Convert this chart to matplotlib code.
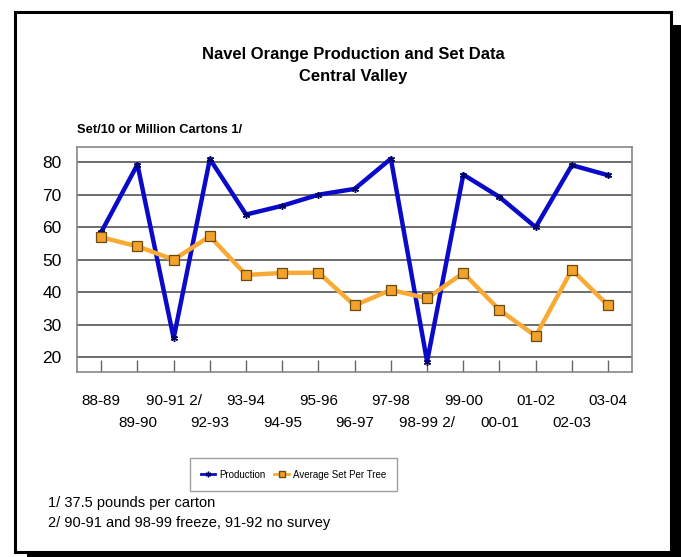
import matplotlib
matplotlib.use("Agg")
import matplotlib.pyplot as plt
from matplotlib.patches import Rectangle
from matplotlib.lines import Line2D
import matplotlib.transforms as mtransforms

plt.rcParams['font.family'] = ['Liberation Sans', 'DejaVu Sans']

categories = ["88-89", "89-90", "90-91 2/", "92-93", "93-94", "94-95", "95-96",
              "96-97", "97-98", "98-99 2/", "99-00", "00-01", "01-02", "02-03", "03-04"]
production = [58.5, 79.3, 25.8, 81.0, 63.9, 66.6, 70.0, 71.8, 81.1, 18.6, 76.2, 69.3, 60.0, 79.1, 76.0]
avg_set = [56.9, 54.1, 50.0, 57.2, 45.3, 45.9, 46.0, 35.9, 40.7, 38.1, 45.9, 34.5, 26.5, 46.9, 35.9]
yticks = [20, 30, 40, 50, 60, 70, 80]

W, H = 681, 557
fig = plt.figure(figsize=(W / 100, H / 100), dpi=100)

def fx(px):
    return px / W

def fy(py):
    return 1 - py / H

# frame with drop shadow
fig.add_artist(Rectangle((fx(27), fy(557)), fx(681) - fx(27), fy(25) - fy(557),
                         transform=fig.transFigure, facecolor='black', edgecolor='none', zorder=0))
fig.add_artist(Rectangle((fx(14.5), fy(551.5)), fx(671.3) - fx(14.5), fy(11.7) - fy(551.5),
                         transform=fig.transFigure, facecolor='white', edgecolor='black',
                         linewidth=2.2, zorder=0.5))

ax = fig.add_axes([fx(77), fy(372), fx(632) - fx(77), fy(147) - fy(372)])
ax.set_zorder(2)
x = list(range(len(categories)))

for yv in yticks:
    ax.axhline(yv, color='#555555', linewidth=1.2, zorder=1)

ax.plot(x, production, color='#0A0AC8', linewidth=3.2, marker=(6, 2, 0), markersize=5,
        markeredgecolor='#000066', markeredgewidth=1.0, zorder=3, label='Production')
ax.plot(x, avg_set, color='#F8AA35', linewidth=3.2, marker='s', markersize=6.5,
        markerfacecolor='#F2A22A', markeredgecolor='#6B4A10', markeredgewidth=0.9,
        zorder=3, label='Average Set Per Tree')

ax.set_xlim(-0.67, 14.66)
ax.set_ylim(15.4, 84.7)
ax.set_yticks(yticks)
ax.set_yticklabels([str(v) for v in yticks], fontsize=12.5)
ax.tick_params(axis='y', length=0, pad=11)
ax.set_xticks(x)
ax.set_xticklabels([])
ax.tick_params(axis='x', direction='in', length=9, width=1.0, color='#666666')
for s in ax.spines.values():
    s.set_color('#888888')
    s.set_linewidth(1.2)

trans = mtransforms.blended_transform_factory(ax.transData, ax.transAxes)
for i, lab in enumerate(categories):
    yy = -0.13 if i % 2 == 0 else -0.228
    ax.text(i, yy, lab, transform=trans, ha='center', va='center', fontsize=11)

fig.text(fx(353), fy(54), "Navel Orange Production and Set Data", ha='center', va='center',
         fontsize=11.9, fontweight='bold')
fig.text(fx(353), fy(76), "Central Valley", ha='center', va='center',
         fontsize=11.9, fontweight='bold')
fig.text(fx(77), fy(130), "Set/10 or Million Cartons 1/", ha='left', va='center',
         fontsize=9.3, fontweight='bold')

handles = [Line2D([], [], color='#0A0AC8', linewidth=2, marker=(6, 2, 0), markersize=4,
                  markeredgecolor='#000066'),
           Line2D([], [], color='#F8AA35', linewidth=2, marker='s', markersize=4,
                  markerfacecolor='#F2A22A', markeredgecolor='#6B4A10')]
leg = fig.legend(handles, ['Production', 'Average Set Per Tree'], loc='center',
                 bbox_to_anchor=(fx(293.5), fy(474.5)), ncol=2, fontsize=7,
                 frameon=True, fancybox=False, edgecolor='#888888', handlelength=1.5,
                 columnspacing=0.9, handletextpad=0.4, borderpad=1.15)
leg.get_frame().set_linewidth(1.0)

fig.text(fx(48), fy(503), "1/ 37.5 pounds per carton", ha='left', va='center', fontsize=10.5)
fig.text(fx(48), fy(523), "2/ 90-91 and 98-99 freeze, 91-92 no survey", ha='left', va='center', fontsize=10.5)

fig.savefig("out.png", dpi=100)
